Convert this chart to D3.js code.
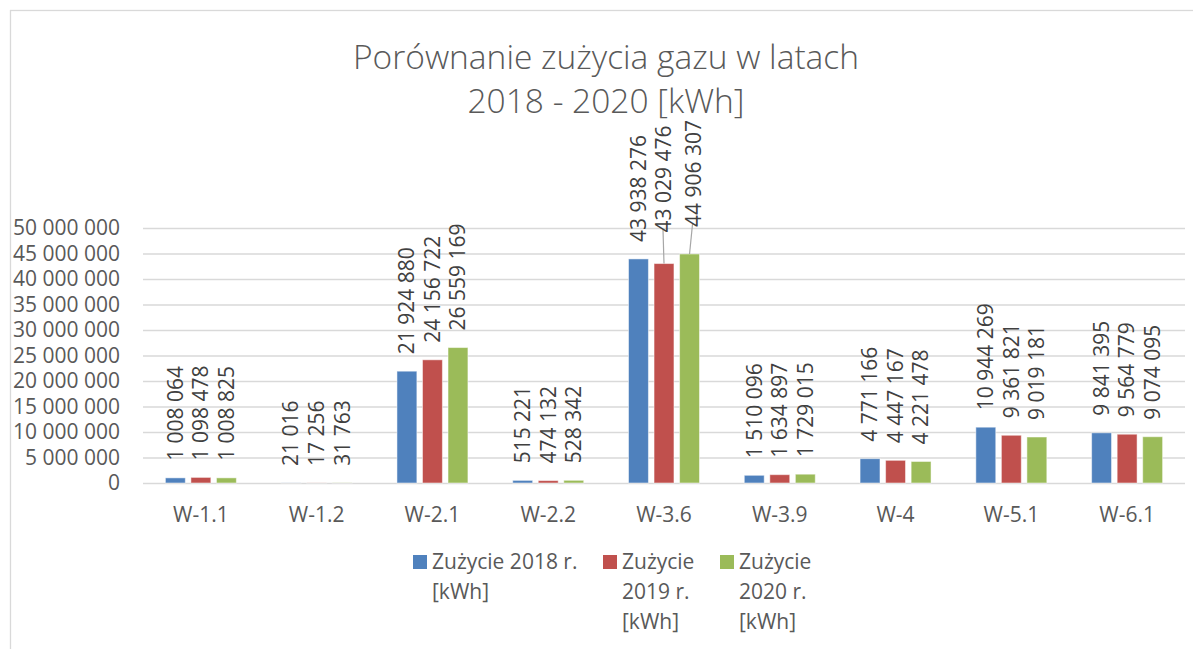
<!DOCTYPE html>
<html>
<head>
    <meta charset="utf-8">
    <style>
        body { margin: 0; background: #fff; }
        svg, svg text { font-family: "Open Sans", "Noto Sans", sans-serif; }
        .axis text { font-size: 21px; fill: #595959; }
        .grid line { stroke: #d9d9d9; stroke-width: 1.3; }
        .lbl { font-size: 21px; fill: #404040; }
        .title { font-size: 33.5px; fill: #595959; font-weight: 300; text-anchor: middle; }
        .legend text { font-size: 21px; fill: #595959; }
    </style>
    <script src="https://d3js.org/d3.v7.min.js"></script>
</head>
<body>
    <svg id="chart" width="1193" height="649"></svg>
    <script>
        // data
        var categories = ["W-1.1", "W-1.2", "W-2.1", "W-2.2", "W-3.6", "W-3.9", "W-4", "W-5.1", "W-6.1"];
        var series = ["Zużycie 2018 r. [kWh]", "Zużycie 2019 r. [kWh]", "Zużycie 2020 r. [kWh]"];
        var use2018 = [1008064, 21016, 21924880, 515221, 43938276, 1510096, 4771166, 10944269, 9841395];
        var use2019 = [1098478, 17256, 24156722, 474132, 43029476, 1634897, 4447167, 9361821, 9564779];
        var use2020 = [1008825, 31763, 26559169, 528342, 44906307, 1729015, 4221478, 9019181, 9074095];
        var yTicks = [0, 5000000, 10000000, 15000000, 20000000, 25000000, 30000000, 35000000, 40000000, 45000000, 50000000];
        var titleLines = ["Porównanie zużycia gazu w latach", "2018 - 2020 [kWh]"];

        var values = [use2018, use2019, use2020];
        var colors = ["#4f81bd", "#c0504d", "#9bbb59"];

        var svg = d3.select("#chart");
        var plotL = 143, plotR = 1185, plotT = 228, plotB = 483;

        var fmt = d3.formatLocale({ decimal: ",", thousands: " ", grouping: [3], currency: ["", ""] }).format(",d");

        // outer chart border
        svg.append("rect")
           .attr("x", 10.5).attr("y", 10.5)
           .attr("width", 1200).attr("height", 700)
           .attr("fill", "none").attr("stroke", "#d9d9d9").attr("stroke-width", 1.3);

        var x = d3.scaleBand().domain(categories).range([plotL, plotR]);
        var xs = d3.scaleBand().domain(d3.range(series.length))
                   .range([22.4, x.bandwidth() - 22.4]).paddingInner(0.22);
        var y = d3.scaleLinear().domain([0, 50000000]).range([plotB, plotT]);

        // gridlines + y labels
        var ya = svg.append("g")
           .attr("class", "axis grid")
           .attr("transform", "translate(" + plotL + ",0)")
           .call(d3.axisLeft(y).tickValues(yTicks).tickFormat(fmt)
                   .tickSize(-(plotR - plotL)).tickPadding(23));
        ya.select(".domain").remove();

        // category labels
        var xa = svg.append("g")
           .attr("class", "axis")
           .attr("transform", "translate(0," + plotB + ")")
           .call(d3.axisBottom(x).tickSize(0).tickPadding(24));
        xa.select(".domain").remove();

        // labels that Excel pushed up, with leader lines: per series [dy, dx]
        var moved = { "W-3.6": [[0, 0], [14, 0], [10, 4]] };

        series.forEach(function(s, si) {
            var g = svg.append("g");
            categories.forEach(function(c, ci) {
                var v = values[si][ci];
                var bx = x(c) + xs(si);
                var cx = bx + xs.bandwidth() / 2;
                g.append("rect")
                 .attr("x", bx).attr("y", y(v))
                 .attr("width", xs.bandwidth()).attr("height", plotB - y(v))
                 .attr("fill", colors[si])
                 .attr("stroke", "#fff").attr("stroke-opacity", 0.5).attr("stroke-width", 1);

                var off = moved[c] ? moved[c][si] : [0, 0];
                var ly = y(v) - 17 - off[0];
                var lx = cx + off[1];
                if (off[0] > 0) {
                    g.append("line")
                     .attr("x1", lx - 1).attr("y1", ly - 3)
                     .attr("x2", cx).attr("y2", y(v))
                     .attr("stroke", "#a6a6a6").attr("stroke-width", 1.2);
                }
                g.append("text")
                 .attr("class", "lbl")
                 .attr("transform", "translate(" + lx + "," + ly + ") rotate(-90)")
                 .attr("dy", "0.35em")
                 .text(fmt(v));
            });
        });

        // title
        svg.append("text")
           .attr("class", "title")
           .selectAll("tspan")
           .data(titleLines)
           .enter().append("tspan")
           .attr("x", 606)
           .attr("y", function(d, i) { return 69 + i * 44; })
           .text(function(d) { return d; });

        // legend, Excel wraps each entry into its own column
        var legendX = [413, 603, 720], legendWrap = [150, 85, 85];
        var leg = svg.append("g").attr("class", "legend");
        series.forEach(function(s, i) {
            leg.append("rect")
               .attr("x", legendX[i]).attr("y", 555)
               .attr("width", 14).attr("height", 14)
               .attr("fill", colors[i]);
            var t = leg.append("text").attr("x", legendX[i] + 19).attr("y", 569);
            var words = s.split(" "), line = [];
            var ts = t.append("tspan").attr("x", legendX[i] + 19).attr("dy", 0);
            words.forEach(function(w) {
                line.push(w);
                ts.text(line.join(" "));
                if (ts.node().getComputedTextLength() > legendWrap[i] && line.length > 1) {
                    line.pop();
                    ts.text(line.join(" "));
                    line = [w];
                    ts = t.append("tspan").attr("x", legendX[i] + 19).attr("dy", 30).text(w);
                }
            });
        });
    </script>
</body>
</html>
